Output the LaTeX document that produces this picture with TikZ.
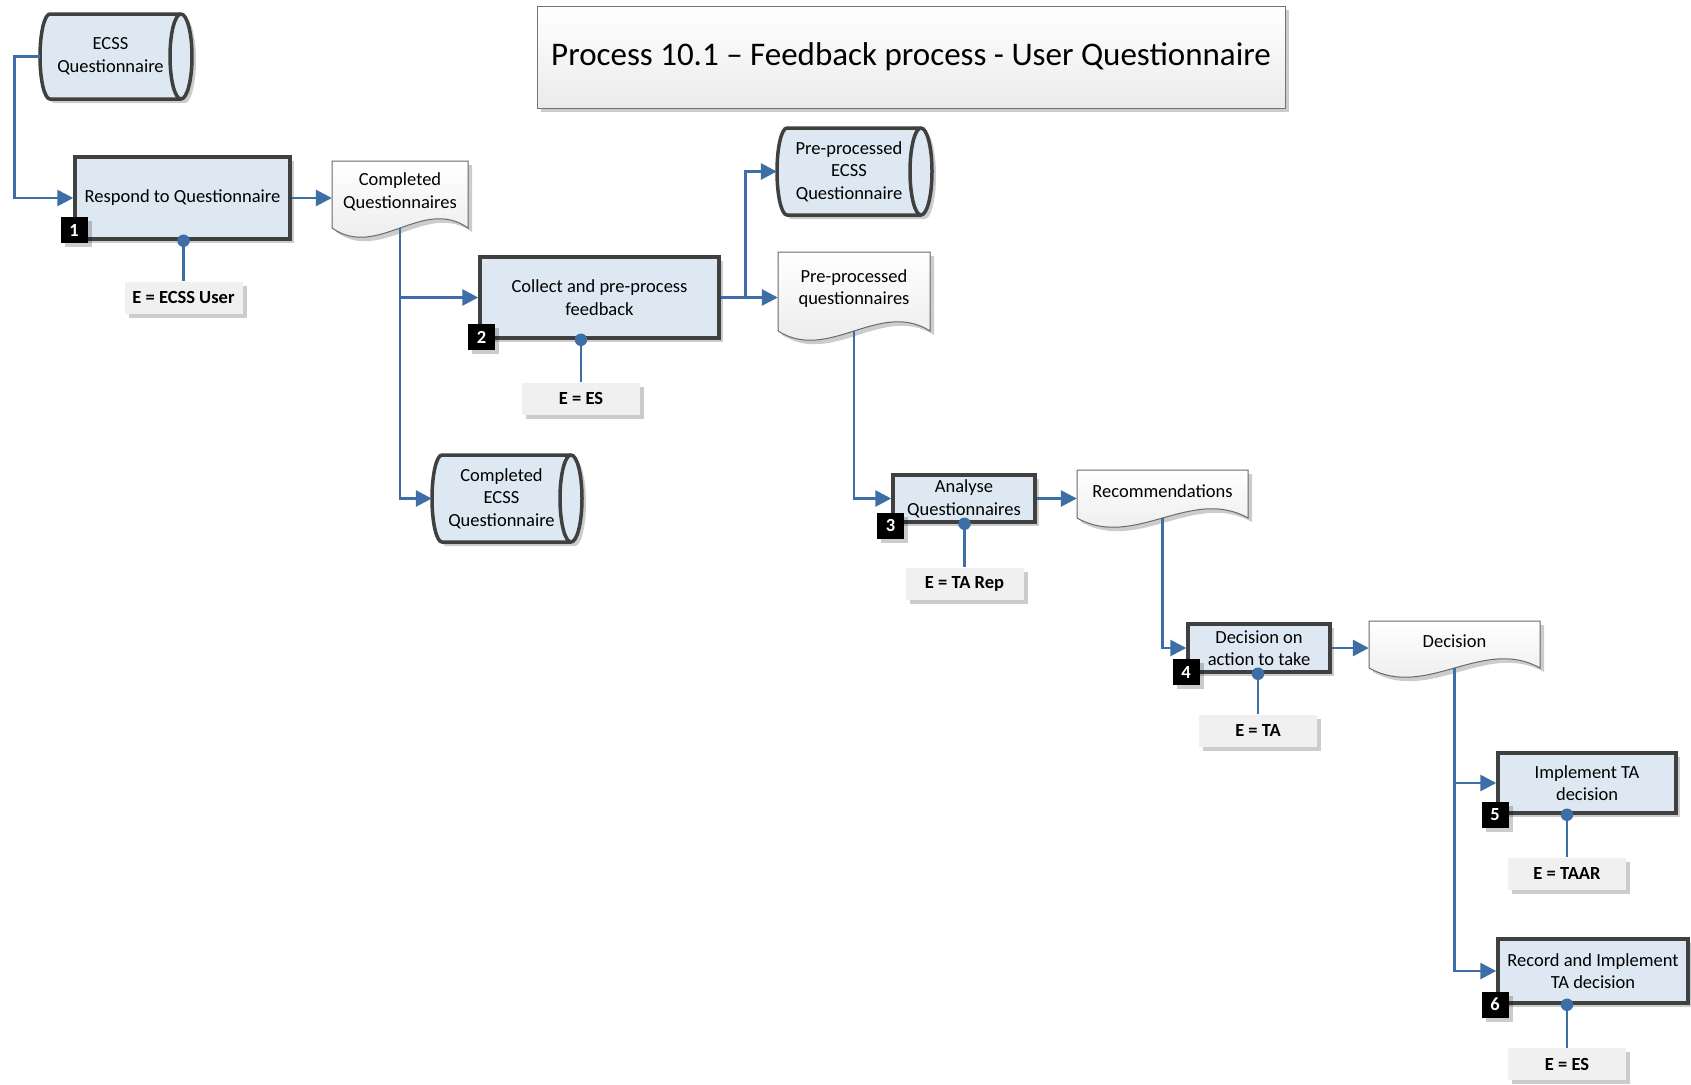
\documentclass[tikz,border=0pt]{standalone}
\usepackage{fontspec}
\setmainfont{Carlito}
\usetikzlibrary{arrows.meta,shadows,calc}
\definecolor{procfill}{RGB}{221,232,243}
\definecolor{bordc}{RGB}{64,64,64}
\definecolor{connc}{RGB}{61,110,166}
\definecolor{labfill}{RGB}{240,240,240}
\definecolor{docline}{RGB}{105,105,105}
\newcommand\bodyfont{\fontsize{18.5}{22.6}\selectfont}
\tikzset{
 shd/.style={drop shadow={shadow xshift=4pt,shadow yshift=-4pt,fill=black,opacity=0.2}},
 procbox/.style={shd, draw=bordc, line width=3.5pt, fill=procfill, inner xsep=4pt, inner ysep=0pt, align=center, font=\bodyfont},
 badge/.style={shd, fill=black, text=white, font=\bodyfont\bfseries, minimum width=27pt, minimum height=26pt, inner sep=0pt},
 elabel/.style={shd, fill=labfill, font=\bodyfont\bfseries, minimum width=118pt, minimum height=32pt, inner sep=0pt},
 conn/.style={draw=connc, line width=2.8pt, -{Triangle[length=16pt,width=16pt]}},
 link/.style={draw=connc, line width=2.6pt},
 dotnode/.style={circle, fill=connc, minimum size=12.5pt, inner sep=0pt},
 storefill/.style={shd, draw=bordc, line width=3.5pt, fill=procfill},
 docfill/.style={shd, draw=docline, line width=1pt, top color=white, bottom color=black!9},
 plaintext/.style={inner sep=0pt, align=center, font=\bodyfont},
 titlebox/.style={shd, draw=black!55, line width=1pt, top color=white, bottom color=black!8, minimum width=748pt, minimum height=102pt, font=\fontsize{33}{40}\selectfont},
}
% stored-data shape: name, x1, y1, x2, y2, text
\newcommand\storeshape[6]{%
 \pgfmathsetmacro\sA{#2+10}%
 \pgfmathsetmacro\sB{#4-11}%
 \pgfmathsetmacro\sH{(#5-#3)/2}%
 \pgfmathsetmacro\sCx{(#2+#4-11)/2}%
 \pgfmathsetmacro\sCy{(#3+#5)/2}%
 \pgfmathsetmacro\sW{#4-11-#2}%
 \pgfmathsetmacro\sHH{#5-#3}%
 \path[storefill] (\sA,#3) -- (\sB,#3) arc[start angle=90,end angle=-90,x radius=11pt,y radius=\sH pt] -- (\sA,#5) arc[start angle=270,end angle=90,x radius=10pt,y radius=\sH pt] -- cycle;
 \draw[draw=bordc,line width=3.5pt] (\sB,#3) arc[start angle=90,end angle=270,x radius=11pt,y radius=\sH pt];
 \node[plaintext, minimum width=\sW pt, minimum height=\sHH pt] (#1) at (\sCx,\sCy) {#6};
}
% document shape: name, x1, y1, x2, y-corner, text
\newcommand\docshape[6]{%
 \pgfmathsetmacro\dW{#4-#2}%
 \pgfmathsetmacro\dP{#4-(#4-#2)/3}%
 \pgfmathsetmacro\dQ{#2+(#4-#2)/3}%
 \pgfmathsetmacro\dU{#5-32}%
 \pgfmathsetmacro\dD{#5+32}%
 \pgfmathsetmacro\dCx{(#2+#4)/2}%
 \pgfmathsetmacro\dCy{(#3+#5-6)/2}%
 \pgfmathsetmacro\dH{#5-6-#3}%
 \path[docfill] (#2,#3) -- (#4,#3) -- (#4,#5) .. controls (\dP,\dU) and (\dQ,\dD) .. (#2,#5) -- cycle;
 \node[plaintext, minimum width=\dW pt, minimum height=\dH pt] (#1) at (\dCx,\dCy) {#6};
 \coordinate (#1b) at (\dCx,#5);
}
\begin{document}
\begin{tikzpicture}[x=1pt,y=-1pt]
\fill[white] (0,0) rectangle (1691,1084);
\useasboundingbox (0,0) rectangle (1691,1084);

\node[titlebox] (title) at (911,57) {Process 10.1 – Feedback process - User Questionnaire};

% data stores
\storeshape{store1}{40}{14}{192}{99}{ECSS\\Questionnaire}
\storeshape{store2}{777}{128}{932}{215}{Pre-processed\\ECSS\\Questionnaire}
\storeshape{store3}{432}{455}{582}{542}{Completed\\ECSS\\Questionnaire}

% documents
\docshape{doc1}{332}{161}{468}{228}{Completed\\Questionnaires}
\docshape{doc2}{778}{252}{930}{331}{Pre-processed\\questionnaires}
\docshape{doc3}{1077}{470}{1248}{518}{Recommendations}
\docshape{doc4}{1369}{621}{1540}{668}{Decision}

% process boxes
\node[procbox, minimum width=215pt, minimum height=82pt] (box1) at (182.5,198) {Respond to Questionnaire};
\node[procbox, minimum width=239pt, minimum height=81pt] (box2) at (599.5,297.5) {Collect and pre-process\\feedback};
\node[procbox, minimum width=142pt, minimum height=47pt] (box3) at (964,498.5) {Analyse\\Questionnaires};
\node[procbox, minimum width=142pt, minimum height=48pt] (box4) at (1259,648) {Decision on\\action to take};
\node[procbox, minimum width=178pt, minimum height=60pt] (box5) at (1587,783) {Implement TA\\decision};
\node[procbox, minimum width=190pt, minimum height=64pt] (box6) at (1593,971) {Record and Implement\\TA decision};

% badges
\node[badge] (b1) at (74,230) {1};
\node[badge] (b2) at (481.5,337) {2};
\node[badge] (b3) at (890.5,525.5) {3};
\node[badge] (b4) at (1186,672) {4};
\node[badge] (b5) at (1495,814.5) {5};
\node[badge] (b6) at (1495,1004.5) {6};

% executor labels
\node[elabel] (l1) at (183.5,297.5) {E = ECSS User};
\node[elabel] (l2) at (581,398.5) {E = ES};
\node[elabel] (l3) at (964.5,583.5) {E = TA Rep};
\node[elabel] (l4) at (1258,730.5) {E = TA};
\node[elabel] (l5) at (1567,873.5) {E = TAAR};
\node[elabel] (l6) at (1567,1064) {E = ES};

\foreach \i in {1,...,6}{
  \draw[link] (l\i.north) -- (l\i.north |- box\i.south);
  \node[dotnode] (d\i) at (l\i.north |- box\i.south) {};
}

% connectors
\draw[conn] (store1.west) -- ++(-25,0) |- (box1.west);
\draw[conn] (box1.east) -- (box1.east -| doc1.west);
\draw[conn] (doc1b) |- (store3.west);
\draw[conn] (doc1b |- box2.west) -- (box2.west);
\draw[conn] (box2.east) -- (box2.east -| doc2.west);
\draw[conn] (box2.east) -- ++(25,0) |- (store2.west);
\draw[conn] (doc2b) |- (box3.west);
\draw[conn] (box3.east) -- (box3.east -| doc3.west);
\draw[conn] (doc3b) |- (box4.west);
\draw[conn] (box4.east) -- (box4.east -| doc4.west);
\draw[conn] (doc4b) |- (box6.west);
\draw[conn] (doc4b |- box5.west) -- (box5.west);
\end{tikzpicture}
\end{document}
